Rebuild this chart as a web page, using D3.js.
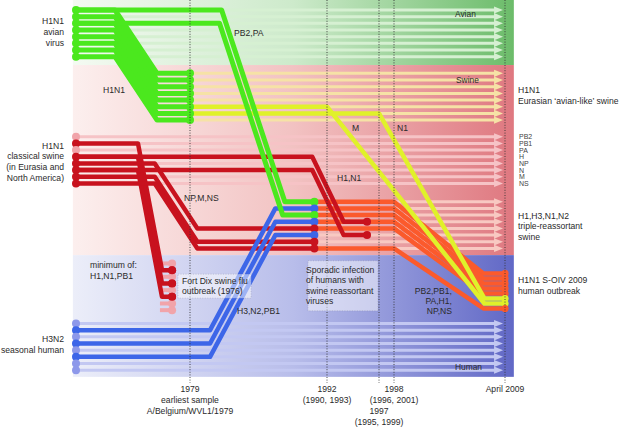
<!DOCTYPE html>
<html><head><meta charset="utf-8">
<script src="https://cdn.jsdelivr.net/npm/d3@7"></script>
<style>body{margin:0;background:#fff}svg{display:block;font-family:"Liberation Sans",Arial,sans-serif}</style>
</head><body>
<svg id="c" width="623" height="427"></svg>
<script>
// ---------- data ----------
const segments = ["PB2","PB1","PA","H","NP","N","M","NS"];
const markerYears = [1979, 1992, 1997, 1998, 2009.3];
const markerLabels = [["1979","earliest sample","A/Belgium/WVL1/1979"],["1992","(1990, 1993)"],["","","1997","(1995, 1999)"],["1998","(1996, 2001)"],["April 2009"]];

// lane rows (schematic rows, one per gene segment)
const avianRows     = [0,1,2,3,4,5,6,7];
const eurasianRows  = [9.5,10.5,11.5,12.5,13.5,14.5,15.5,16.5];
const classicalRows = [19,20,21,22,23,24,25,26];
const tripleRows    = [28.75,29.75,30.75,31.75,32.75,33.75,34.75,35.75];
const fortDixRows   = [38,39,40,41,42,43,44,45];
const humanRows     = [47,48,49,50,51,52,53,54];
const outbreakRows  = [39.5,40.25,41,41.75,42.5,43.25,44,44.75];

const classicalActive = [0,1,0,1,1,1,1,1];
const fortDixActive   = [0,1,0,1,0,1,0,0];
const humanActive     = [0,1,0,1,0,1,0,0];
const tripleOrigin    = ["avian","human","avian","human","swine","human","swine","swine"];
const outbreakOrigin  = ["triple","triple","triple","triple","triple","eurasian","eurasian","triple"];

const bandNames = ["Avian","Swine","Human"];
const bandRows  = [[-1.5,8.25],[8.25,36.75],[36.75,55]];
const bandYears = [1967.7, 2010.2];

// flows: [year,row] points
const avianToEurasian = avianRows.map((r,i)=>[[1968,r],[1971.76,r],[1975.82,eurasianRows[i]],[1979,eurasianRows[i]]]);
const avianToTriple = [
  [[1968,0],[1982.0,0],[1988.0,28.75],[1990.8,28.75]],
  [[1968,2],[1981.8,2],[1987.8,30.75],[1990.8,30.75]]
];
const humanToTriple = [
  [[1968,48],[1980.9,48],[1987.1,29.75],[1990.8,29.75]],
  [[1968,50],[1980.9,50],[1987.1,31.75],[1990.8,31.75]],
  [[1968,52],[1980.9,52],[1987.1,33.75],[1990.8,33.75]]
];
const classicalToFortDix = [
  [[1968,20],[1973.98,20],[1976.3,39],[1977.27,39]],
  [[1968,22],[1973.98,22],[1976.3,41],[1977.27,41]],
  [[1968,24],[1973.98,24],[1976.3,43],[1977.27,43]]
];
const fortDixStubs = [[[1976.1,38],[1977.27,38]],[[1976.1,40],[1977.27,40]],[[1976.1,42],[1977.27,42]],[[1976.1,44],[1977.27,44]],[[1976.1,45],[1977.27,45]]];
const classicalToTriple = [
  [[1968,23],[1975.6,23],[1979.7,32.75],[1990.8,32.75]],
  [[1968,25],[1975.6,25],[1979.7,34.75],[1990.8,34.75]],
  [[1968,26],[1975.6,26],[1979.7,35.75],[1990.8,35.75]]
];
const classicalHN = [
  [[1968,22],[1990.6,22],[1993.6,31.75],[1995.85,31.75]],
  [[1968,24],[1990.6,24],[1993.6,33.75],[1995.85,33.75]]
];
const eurasianToOutbreak = [
  [[1979,14.5],[1992,14.5],[2007.2,44],[2009.3,44]],
  [[1979,15.5],[1997,15.5],[2007.2,43.25],[2009.3,43.25]]
];
const tripleToOutbreak = [0,1,2,3,4,7].map(i=>[[1990.8,tripleRows[i]],[1998,tripleRows[i]],[2007.1,outbreakRows[i]],[2009.3,outbreakRows[i]]]);

// ---------- drawing ----------
const svg = d3.select("#c");
const x = d3.scaleLinear().domain([1968,1979,1992,1997,1998,2009.3]).range([76,190,327,379,394,505]);
const y = d3.scaleLinear().domain([0,1]).range([10,16.67]);
const line = d3.line().x(d=>x(d[0])).y(d=>y(d[1]));

const C = {green:"#4be81e", yellow:"#e0f12a", red:"#c8121e", orange:"#fb5a2c", blue:"#3d66e8",
  lightRed:"#f1a4aa", lightBlue:"#8d98ea"};

const defs = svg.append("defs");
const grads = [["#f4faf2","#cdeacb","#6cbc6a"],["#fcefee","#f2c2c2","#df7880"],["#eceef9","#b8bdea","#6168c6"]];
grads.forEach((g,i)=>{
  const lg = defs.append("linearGradient").attr("id","g"+i).attr("x1",0).attr("x2",1).attr("y1",0).attr("y2",0);
  lg.append("stop").attr("offset",0).attr("stop-color",g[0]);
  lg.append("stop").attr("offset",0.5).attr("stop-color",g[1]);
  lg.append("stop").attr("offset",1).attr("stop-color",g[2]);
});
bandRows.forEach((b,i)=>{
  svg.append("rect").attr("x",x(bandYears[0])).attr("width",x(bandYears[1])-x(bandYears[0]))
    .attr("y",y(b[0])).attr("height",y(b[1])-y(b[0])).attr("fill",`url(#g${i})`);
});

// background arrows
function arrows(rows, start, color){
  const end = x(2009.1);
  rows.forEach(r=>{
    svg.append("line").attr("x1",x(start)).attr("x2",end-6).attr("y1",y(r)).attr("y2",y(r))
      .attr("stroke",color).attr("stroke-width",3);
    svg.append("path").attr("d",`M${end-9},${y(r)-3.6}L${end},${y(r)}L${end-9},${y(r)+3.6}Z`).attr("fill",color);
  });
}
arrows(avianRows,1968,"#d6f0d2");
arrows(eurasianRows,1979,"#f6e2a6");
arrows(classicalRows,1968,"#f6c3c6");
arrows(tripleRows,1990.8,"#f8c9c2");
arrows(humanRows,1968,"#c3c8f2");

function flows(list,color,w){
  list.forEach(p=>svg.append("path").attr("d",line(p)).attr("fill","none").attr("stroke",color)
    .attr("stroke-width",w).attr("stroke-linejoin","round"));
}
function dot(yr,r,color,rad){
  svg.append("circle").attr("cx",x(yr)).attr("cy",y(r)).attr("r",rad||4).attr("fill",color);
}
function bandFill(first,last,color){
  const pts=[first[1],first[2],last[2],last[1]];
  svg.append("path").attr("d",d3.line().x(d=>x(d[0])).y(d=>y(d[1]))(pts)+"Z").attr("fill",color);
}

// orange
flows(tripleToOutbreak,C.orange,4.5);
// red
flows(fortDixStubs,C.lightRed,4);
fortDixRows.forEach((r,i)=>dot(1977.27,r,fortDixActive[i]?C.red:C.lightRed));
bandFill(classicalToFortDix[0],classicalToFortDix[2],C.red);
flows(classicalToFortDix,C.red,4.5);
fortDixRows.forEach((r,i)=>{ if(fortDixActive[i]) dot(1977.27,r,C.red); });
flows(classicalToTriple,C.red,4.5);
flows(classicalHN,C.red,4.5);
classicalHN.forEach(p=>dot(p[3][0],p[3][1],C.red));
classicalRows.forEach((r,i)=>dot(1968,r,classicalActive[i]?C.red:C.lightRed));
// yellow
flows(eurasianToOutbreak,C.yellow,4.5);
// blue
flows(humanToTriple,C.blue,4.5);
humanRows.forEach((r,i)=>dot(1968,r,humanActive[i]?C.blue:C.lightBlue));
// green
bandFill(avianToEurasian[0],avianToEurasian[7],C.green);
flows(avianToEurasian,C.green,5);
flows(avianToTriple,C.green,5);
avianRows.forEach(r=>dot(1968,r,C.green));
eurasianRows.forEach(r=>dot(1979,r,C.green));
// triple reassortant origin dots
const originColor = {avian:C.green,human:C.blue,swine:C.red};
tripleRows.forEach((r,i)=>dot(1990.8,r,originColor[tripleOrigin[i]]));
// outbreak dots
outbreakRows.forEach((r,i)=>dot(2009.3,r,outbreakOrigin[i]==="triple"?C.orange:C.yellow,3.6));

// vertical dotted lines
markerYears.forEach(yr=>{
  svg.append("line").attr("x1",x(yr)).attr("x2",x(yr)).attr("y1",y(-1.5)).attr("y2",y(55.9))
    .attr("stroke","#333").attr("stroke-width",0.9).attr("stroke-dasharray","1,1.6");
});

// boxes
function box(x0,x1,r0,r1){
  svg.append("rect").attr("x",x(x0)).attr("y",y(r0)).attr("width",x(x1)-x(x0)).attr("height",y(r1)-y(r0))
    .attr("fill","rgba(255,255,255,0.5)").attr("stroke","rgba(120,120,140,0.5)").attr("stroke-width",0.6).attr("stroke-dasharray","1,1.5");
}
box(1977.84,1984.8,39.6,43.2);
box(1990.2,1996.9,37.6,45.1);

// text
function txt(s,px,py,opt={}){
  svg.append("text").attr("x",px).attr("y",py).text(s)
    .attr("font-size",opt.size||8.6).attr("fill",opt.fill||"#2a2a2a")
    .attr("text-anchor",opt.anchor||"start");
}
function block(lines,px,py,lh,opt){ lines.forEach((s,i)=>{ if(s) txt(s,px,py+i*lh,opt); }); }

block(["H1N1","avian","virus"],64,23.5,11,{anchor:"end"});
block(["H1N1","classical swine","(in Eurasia and","North America)"],64,148.5,10.8,{anchor:"end"});
block(["H3N2","seasonal human"],64,341.5,11.5,{anchor:"end"});
txt("H1N1",103,93);
txt("PB2,PA",234,36);
txt("Avian",455,16.5,{size:8.4});
txt("Swine",456,82.5,{size:8.4});
txt("Human",455,370,{size:8.4});
txt("M",352,130.5);
txt("N1",397,130.5);
txt("NP,M,NS",184,200.5);
txt("H1,N1",337,181);
block(["minimum of:","H1,N1,PB1"],90,268,10.5);
block(["Fort Dix swine flu","outbreak (1976)"],182,283.5,10.8);
block(["Sporadic infection","of humans with","swine reassortant","viruses"],306,272.5,10.5);
txt("H3,N2,PB1",237,314);
block(["PB2,PB1,","PA,H1,","NP,NS"],452,294,9.8,{anchor:"end"});

block(["H1N1","Eurasian \u2018avian-like\u2019 swine"],518,93,11.2);
segments.forEach((s,i)=>txt(s,519,y(classicalRows[i])+2.6,{size:7,fill:"#444"}));
block(["H1,H3,N1,N2","triple-reassortant","swine"],518,218.5,10.8);
block(["H1N1 S-OIV 2009","human outbreak"],518,283,11.2);

markerYears.forEach((yr,i)=>block(markerLabels[i],x(yr),392,11,{anchor:"middle"}));
</script>
</body></html>
